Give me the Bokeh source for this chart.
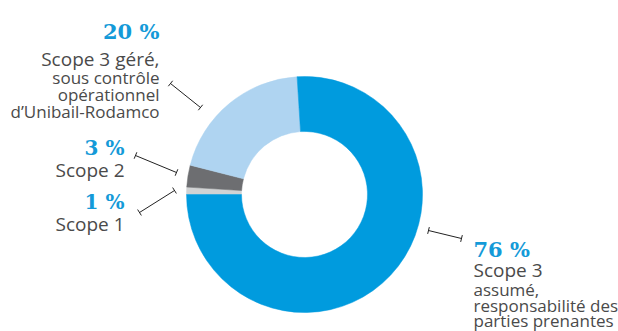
import numpy as np
from bokeh.plotting import figure
from bokeh.models import Range1d, ColumnDataSource
from bokeh.core.properties import value
from bokeh.embed import file_html
from bokeh.resources import INLINE

W, H = 618, 331

# ---- data ----
categories = ["Scope 1", "Scope 2", "Scope 3 géré", "Scope 3 assumé"]
values = [1, 3, 20, 76]
pct_labels = ["1 %", "3 %", "20 %", "76 %"]
colors = ["#D1D3D4", "#6D6E71", "#AFD4F1", "#009BDE"]
label_lines = [
    ["Scope 1"],
    ["Scope 2"],
    ["Scope 3 géré,", "sous contrôle", "opérationnel", "d’Unibail-Rodamco"],
    ["Scope 3", "assumé,", "responsabilité des", "parties prenantes"],
]

# ---- layout (screen px, y downward) ----
center = (304, 194)
r_out, r_in = 118, 63
start_deg = 180  # segments run clockwise from the left horizontal
label_anchor = [
    dict(x=124, pct_y=201, ys=[223], align="right"),
    dict(x=124, pct_y=147, ys=[169], align="right"),
    dict(x=159, pct_y=31, ys=[58, 77, 94, 111], align="right"),
    dict(x=473, pct_y=249, ys=[269, 289, 305, 320], align="left"),
]
leaders = [
    ((139, 212), (174, 190)),
    ((135, 155), (176, 172)),
    ((170, 83), (200, 107)),
    ((428, 230), (461, 238)),
]

def Y(y):
    return H - y

p = figure(width=W, height=H, output_backend="svg", toolbar_location=None,
           x_range=Range1d(0, W), y_range=Range1d(0, H),
           min_border=0, outline_line_color=None)
p.axis.visible = False
p.grid.visible = False
p.background_fill_color = "white"
p.border_fill_color = "white"

vals = np.array(values, dtype=float)
frac = vals / vals.sum()
cum = np.concatenate([[0], np.cumsum(frac)])
end_ang = np.deg2rad(start_deg - cum[:-1] * 360)
start_ang = np.deg2rad(start_deg - cum[1:] * 360)

src = ColumnDataSource(dict(x=[center[0]] * len(values), y=[Y(center[1])] * len(values),
                            start=start_ang, end=end_ang, color=colors, cat=categories))
p.annular_wedge(x="x", y="y", inner_radius=r_in, outer_radius=r_out,
                start_angle="start", end_angle="end", color="color",
                line_color="color", line_width=0.5, source=src)

# leader lines with end ticks
xs, ys = [], []
tick = 3.5
for (a, b) in leaders:
    xs.append([a[0], b[0]]); ys.append([Y(a[1]), Y(b[1])])
    dx, dy = b[0] - a[0], b[1] - a[1]
    n = np.hypot(dx, dy)
    px, py = -dy / n * tick, dx / n * tick
    for q in (a, b):
        xs.append([q[0] - px, q[0] + px]); ys.append([Y(q[1] - py), Y(q[1] + py)])
p.multi_line(xs=xs, ys=ys, line_color="#222222", line_width=1)

pct_color = "#149AD8"
text_color = "#4a4a4a"
for i, anc in enumerate(label_anchor):
    p.text(x=[anc["x"]], y=[Y(anc["pct_y"])], text=[pct_labels[i]],
           text_font=value("DejaVu Serif"), text_font_style="bold",
           text_font_size="21px" if i >= 2 else "20px", text_color=pct_color,
           text_align=anc["align"], text_baseline="alphabetic")
    for j, line in enumerate(label_lines[i]):
        p.text(x=[anc["x"]], y=[Y(anc["ys"][j])], text=[line],
               text_font=value("Open Sans"),
               text_font_size="19px" if j == 0 else "17px",
               text_color=text_color, text_align=anc["align"],
               text_baseline="alphabetic")

open("out.html", "w").write(file_html(p, INLINE))
